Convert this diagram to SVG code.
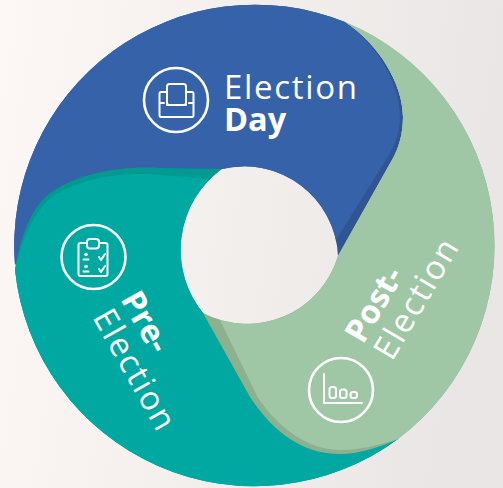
<svg xmlns="http://www.w3.org/2000/svg" width="503" height="488" viewBox="0 0 503 488">
<style>
.t{font-family:"Open Sans","Noto Sans",sans-serif;fill:#fff;font-size:33px;letter-spacing:1.7px}
.b{font-weight:700;font-size:32.500px;letter-spacing:0}
.i{fill:none;stroke:#fff;stroke-width:2;stroke-linejoin:round;stroke-linecap:round}
.c{fill:none;stroke:#fff;stroke-width:2.6}
</style>
<defs>
<linearGradient id="bg" x1="0" y1="0" x2="1" y2="0.15">
<stop offset="0" stop-color="#fdf8f5"/><stop offset="1" stop-color="#e9e6e5"/>
</linearGradient>
</defs>
<rect width="503" height="488" fill="url(#bg)"/>
<g id="election-day">
<path fill="#2f5592" d="M338,256 L392,160 C398,150 403,135 403,117 C403,85 380,45 345,22 A241,241 0 0 0 15,265 L60,190 L222,169 A94,94 0 0 1 338,256 Z"/>
<path fill="#3662a9" d="M336,240 L389,155 C395,145 400,132 400,117 C400,85 378,45 345,22 A241,241 0 0 0 15,265 L60,190 L222,169 A94,94 0 0 1 336,240 Z"/>
<text class="t" x="224" y="99">Election</text>
<text class="t b" x="224" y="131">Day</text>
<circle class="c" cx="176" cy="100" r="32"/>
<rect class="i" x="167" y="84" width="19" height="21" rx="2.500"/>
<path class="i" d="M167,92 H161 Q159.500,92 159.500,94 V115 Q159.500,117 161,117 H192 Q193.500,117 193.500,115 V94 Q193.500,92 192,92 H186"/>
<path class="i" d="M160,103 H164 M167,105 H186 M193,103 H189"/>
</g>
<g id="pre-election">
<path fill="#009a90" d="M222,169 L160,168 C130,166 83,170 50,193 C33,206 20,235 15,270 A241,241 0 0 0 398,439 L300,400 L203,313 A100,100 0 0 1 222,169 Z"/>
<path fill="#00a8a2" d="M210,179 L160,175 C130,172 85,175 52,197 C35,210 22,238 15,270 A241,241 0 0 0 398,439 L300,400 L203,313 A100,100 0 0 1 210,179 Z"/>
<text class="t" transform="translate(92,317) rotate(60.500)">Election</text>
<text class="t b" transform="translate(120,299) rotate(60.500)">Pre-</text>
<circle class="c" cx="93.500" cy="257" r="32"/>
<rect class="i" x="78.500" y="243" width="29" height="33" rx="2"/>
<rect x="87" y="239" width="12" height="9.500" rx="3" fill="#00a8a2" stroke="#fff" stroke-width="2"/>
<path class="i" d="M99,257 L101,260 L105,254 M99,269 L101,272 L105,266"/>
<circle cx="86" cy="254.500" r="1.800" fill="#fff"/><path class="i" d="M83.500,259.500 H88.500"/>
<circle cx="86" cy="266.500" r="1.800" fill="#fff"/><path class="i" d="M83.500,271.500 H88.500"/>
</g>
<g id="post-election">
<path fill="#8db08f" d="M338,256 L392,160 C398,150 403,135 403,117 C403,85 380,45 345,22 A242,242 0 0 1 398,439 C380,447 360,454 340,454 C305,454 275,435 250,397 L203,313 A95,95 0 0 0 338,256 Z"/>
<path fill="#a0c7a5" d="M338,256 L392,160 C398,150 403,135 403,117 C403,85 380,45 345,22 A242,242 0 0 1 398,439 C380,445 360,450 340,450 C310,450 280,430 258,398 L220,320 A95,95 0 0 0 338,256 Z"/>
<text class="t" transform="translate(392,362) rotate(-59.500)">Election</text>
<text class="t b" transform="translate(363,345) rotate(-59.500)">Post-</text>
<circle class="c" cx="341" cy="390" r="32"/>
<path class="i" d="M324,374 V403 H362"/>
<rect class="i" x="329.500" y="387" width="6.500" height="11" rx="2.500"/>
<rect class="i" x="340" y="389.500" width="6.500" height="8.500" rx="2.500"/>
<rect class="i" x="350.500" y="392" width="6.500" height="6" rx="2.500"/>
</g>
</svg>
